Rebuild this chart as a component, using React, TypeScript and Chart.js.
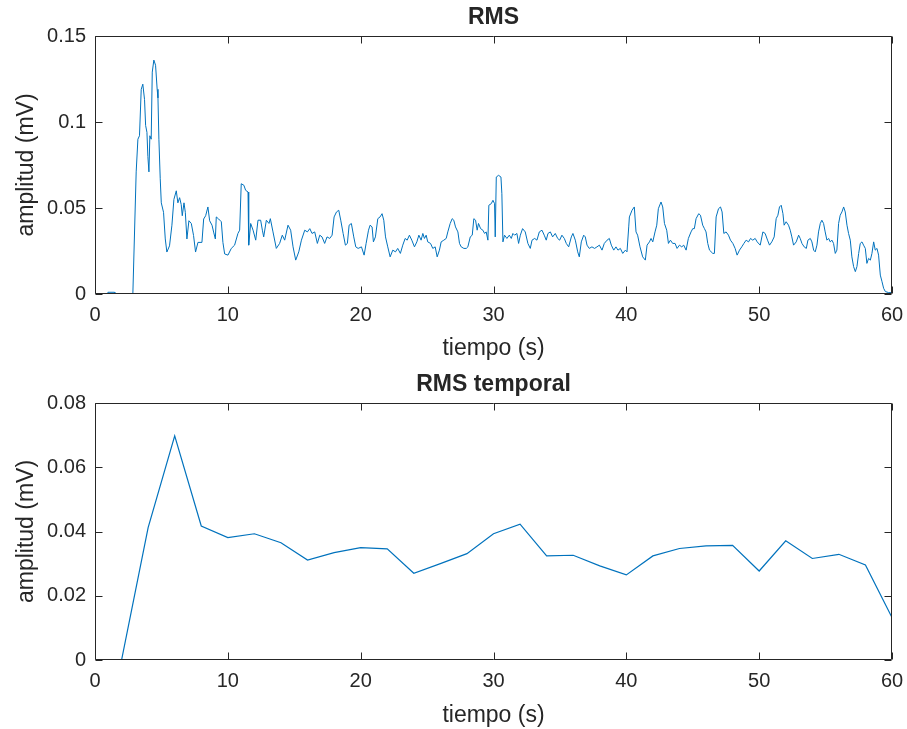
import React, { useEffect, useRef } from "react";
import { Chart, registerables } from "chart.js";

Chart.register(...registerables);

// ---------- data ----------
const rmsTime = [
  0, 0.95, 0.97, 1.47, 1.5, 2.85, 3.1, 3.23, 3.35, 3.48, 3.6, 3.73, 3.81, 3.91, 3.98, 4.06, 4.13, 4.23, 4.31, 4.43,
  4.56, 4.68, 4.74, 4.81, 4.91, 4.99, 5.16, 5.29, 5.41, 5.61, 5.79, 5.94, 6.12, 6.24, 6.37, 6.49, 6.57, 6.7, 6.8, 6.92,
  7.07, 7.25, 7.42, 7.57, 7.75, 8.05, 8.18, 8.33, 8.5, 8.63, 8.81, 8.93, 9.06, 9.13, 9.31, 9.51, 9.63, 9.76, 10.01, 10.26,
  10.51, 10.76, 10.89, 11.01, 11.21, 11.34, 11.52, 11.57, 11.72, 11.9, 12.1, 12.27, 12.47, 12.6, 12.7, 12.9, 13.1, 13.2, 13.4, 13.65,
  13.9, 14.1, 14.28, 14.53, 14.73, 14.91, 15.11, 15.34, 15.54, 15.79, 15.99, 16.17, 16.34, 16.54, 16.74, 16.92, 17.09, 17.29, 17.47, 17.67,
  17.85, 18.0, 18.18, 18.35, 18.5, 18.68, 18.85, 19.0, 19.13, 19.3, 19.48, 19.63, 19.81, 20.06, 20.26, 20.41, 20.59, 20.71, 20.86, 20.96,
  21.11, 21.29, 21.46, 21.61, 21.74, 21.87, 22.04, 22.22, 22.42, 22.62, 22.79, 22.99, 23.17, 23.35, 23.5, 23.67, 23.85, 24.05, 24.23, 24.38,
  24.55, 24.68, 24.8, 24.93, 25.05, 25.26, 25.43, 25.61, 25.76, 25.93, 26.06, 26.26, 26.44, 26.56, 26.74, 26.89, 27.01, 27.14, 27.32, 27.44,
  27.57, 27.77, 27.95, 28.07, 28.25, 28.4, 28.52, 28.65, 28.77, 28.87, 29.03, 29.2, 29.33, 29.45, 29.58, 29.65, 29.83, 29.96, 30.08, 30.13,
  30.21, 30.38, 30.56, 30.63, 30.71, 30.83, 31.01, 31.19, 31.34, 31.46, 31.59, 31.76, 31.89, 32.02, 32.19, 32.39, 32.59, 32.77, 32.9, 33.1,
  33.27, 33.45, 33.65, 33.82, 33.97, 34.1, 34.28, 34.45, 34.65, 34.83, 34.98, 35.15, 35.33, 35.48, 35.66, 35.86, 35.98, 36.16, 36.34, 36.46,
  36.61, 36.79, 36.91, 37.04, 37.21, 37.41, 37.61, 37.79, 37.97, 38.17, 38.34, 38.55, 38.72, 38.87, 39.05, 39.22, 39.37, 39.55, 39.73, 39.93,
  40.05, 40.18, 40.23, 40.43, 40.6, 40.73, 40.85, 41.03, 41.23, 41.43, 41.56, 41.74, 41.86, 41.99, 42.16, 42.29, 42.41, 42.61, 42.74, 42.87,
  43.04, 43.17, 43.32, 43.49, 43.67, 43.82, 44.0, 44.17, 44.32, 44.5, 44.67, 44.87, 45.0, 45.12, 45.25, 45.45, 45.58, 45.75, 45.88, 46.0,
  46.13, 46.26, 46.51, 46.63, 46.76, 46.94, 47.09, 47.21, 47.34, 47.51, 47.69, 47.84, 48.02, 48.19, 48.34, 48.52, 48.69, 48.85, 49.02, 49.2,
  49.35, 49.52, 49.7, 49.85, 50.08, 50.28, 50.45, 50.63, 50.78, 50.95, 51.13, 51.28, 51.41, 51.53, 51.66, 51.79, 51.88, 52.03, 52.21, 52.34,
  52.46, 52.59, 52.79, 52.97, 53.09, 53.22, 53.39, 53.55, 53.67, 53.85, 53.97, 54.1, 54.22, 54.35, 54.47, 54.6, 54.72, 54.85, 54.97, 55.1,
  55.23, 55.35, 55.48, 55.6, 55.73, 55.85, 55.98, 56.1, 56.23, 56.36, 56.48, 56.61, 56.73, 56.86, 56.98, 57.11, 57.24, 57.36, 57.49, 57.61,
  57.74, 57.86, 57.99, 58.11, 58.24, 58.37, 58.49, 58.62, 58.74, 58.87, 58.99, 59.12, 59.25, 59.37, 59.5, 59.75, 60.0,
];

const rmsValue = [
  0, 0, 0.001, 0.001, 0, 0, 0.071, 0.09, 0.092, 0.119, 0.122, 0.113, 0.098, 0.094, 0.08, 0.071, 0.092, 0.09, 0.129, 0.136,
  0.133, 0.119, 0.114, 0.09, 0.067, 0.053, 0.0475, 0.032, 0.0244, 0.028, 0.04, 0.055, 0.06, 0.053, 0.056, 0.052, 0.0455, 0.053, 0.0475, 0.032,
  0.0426, 0.041, 0.034, 0.0244, 0.03, 0.03, 0.0436, 0.0455, 0.0506, 0.0426, 0.04, 0.036, 0.032, 0.0448, 0.0436, 0.042, 0.03, 0.0233, 0.0226, 0.0265,
  0.0284, 0.0352, 0.0371, 0.0641, 0.0632, 0.0603, 0.0593, 0.0284, 0.041, 0.0371, 0.0313, 0.0429, 0.0429, 0.0371, 0.0332, 0.0429, 0.041, 0.0438, 0.0361, 0.0265,
  0.0294, 0.0342, 0.0313, 0.04, 0.0371, 0.0274, 0.0197, 0.0245, 0.0313, 0.0371, 0.0361, 0.038, 0.0352, 0.0361, 0.0294, 0.0342, 0.0332, 0.0294, 0.0332, 0.0323,
  0.0342, 0.0448, 0.0477, 0.0487, 0.0429, 0.0352, 0.0284, 0.0294, 0.04, 0.041, 0.0332, 0.0274, 0.0265, 0.0274, 0.0226, 0.0294, 0.0371, 0.04, 0.039, 0.0303,
  0.0332, 0.0438, 0.0448, 0.0467, 0.0429, 0.0332, 0.0274, 0.0216, 0.0255, 0.0245, 0.0265, 0.0236, 0.0284, 0.0323, 0.0313, 0.0342, 0.0313, 0.0274, 0.0303, 0.0342,
  0.0313, 0.0352, 0.0323, 0.0342, 0.0303, 0.0294, 0.0265, 0.0274, 0.0216, 0.0255, 0.0303, 0.0313, 0.0323, 0.0361, 0.041, 0.0438, 0.0429, 0.039, 0.0361, 0.0294,
  0.0274, 0.0265, 0.0265, 0.0274, 0.0332, 0.0342, 0.0438, 0.0429, 0.0371, 0.041, 0.038, 0.0371, 0.0352, 0.0361, 0.0313, 0.0516, 0.0525, 0.0545, 0.0525, 0.0332,
  0.068, 0.069, 0.068, 0.0583, 0.0303, 0.0342, 0.0323, 0.0342, 0.0323, 0.0352, 0.0342, 0.0352, 0.0294, 0.0342, 0.038, 0.0361, 0.0294, 0.0265, 0.0313, 0.0323,
  0.0313, 0.0361, 0.0371, 0.0342, 0.0313, 0.0352, 0.0361, 0.0332, 0.0352, 0.0323, 0.0313, 0.0342, 0.0323, 0.0294, 0.0274, 0.0332, 0.0352, 0.0313, 0.0245, 0.0216,
  0.0303, 0.0342, 0.0332, 0.0284, 0.0265, 0.0274, 0.0265, 0.0274, 0.0284, 0.0255, 0.0294, 0.0313, 0.0323, 0.0284, 0.0255, 0.0274, 0.0255, 0.0265, 0.0236, 0.0255,
  0.0245, 0.039, 0.0448, 0.0487, 0.0506, 0.0361, 0.0342, 0.0274, 0.0216, 0.0197, 0.0284, 0.0303, 0.0323, 0.0303, 0.0361, 0.04, 0.0496, 0.0535, 0.0506, 0.041,
  0.0371, 0.0294, 0.0313, 0.0294, 0.0294, 0.0265, 0.0284, 0.0274, 0.0284, 0.0255, 0.0323, 0.0361, 0.038, 0.038, 0.0438, 0.0467, 0.0458, 0.04, 0.038, 0.0361,
  0.0294, 0.0255, 0.0236, 0.0236, 0.0448, 0.0496, 0.0506, 0.0477, 0.0352, 0.0361, 0.0342, 0.0313, 0.0294, 0.0265, 0.0226, 0.0255, 0.0274, 0.0294, 0.0313, 0.0303,
  0.0323, 0.0313, 0.0323, 0.0303, 0.0284, 0.0361, 0.0352, 0.0313, 0.0284, 0.0303, 0.0332, 0.0438, 0.0458, 0.0506, 0.0516, 0.0467, 0.04, 0.042, 0.04, 0.0371,
  0.0332, 0.0284, 0.0303, 0.0342, 0.0323, 0.0294, 0.0274, 0.0265, 0.0313, 0.0323, 0.0303, 0.0255, 0.0245, 0.0284, 0.0361, 0.041, 0.0429, 0.041, 0.0361, 0.0313,
  0.0323, 0.0303, 0.0313, 0.0294, 0.0236, 0.0255, 0.041, 0.0458, 0.0477, 0.0506, 0.0477, 0.04, 0.0352, 0.0313, 0.0216, 0.0159, 0.013, 0.0159, 0.0236, 0.0294,
  0.0303, 0.0284, 0.0265, 0.0178, 0.0207, 0.0197, 0.0236, 0.0303, 0.0255, 0.0265, 0.0226, 0.011, 0.0071, 0.0033, 0.0014, 0.0008, 0.0008,
];

const temporalTime = [2, 4, 6, 8, 10, 12, 14, 16, 18, 20, 22, 24, 26, 28, 30, 32, 34, 36, 38, 40, 42, 44, 46, 48, 50, 52, 54, 56, 58, 60];
const temporalValue = [
  0, 0.0412, 0.0698, 0.0417, 0.0381, 0.0393, 0.0365, 0.0311, 0.0334, 0.035, 0.0346, 0.027, 0.03, 0.0331, 0.0393,
  0.0423, 0.0324, 0.0326, 0.0293, 0.0265, 0.0324, 0.0347, 0.0355, 0.0357, 0.0277, 0.0371, 0.0316, 0.0329, 0.0296, 0.0132,
];

const xTicks = [0, 10, 20, 30, 40, 50, 60];
const xTickLabels = ["0", "10", "20", "30", "40", "50", "60"];
const rmsYTicks = [0, 0.05, 0.1, 0.15];
const rmsYTickLabels = ["0", "0.05", "0.1", "0.15"];
const temporalYTicks = [0, 0.02, 0.04, 0.06, 0.08];
const temporalYTickLabels = ["0", "0.02", "0.04", "0.06", "0.08"];

// ---------- styling ----------
const FONT = "'Liberation Sans', Arial, Helvetica, sans-serif";
const AXIS = "#262626";
const LINE = "#0072BD";
const TICK_LEN = 7;

const boxPlugin = {
  id: "matlabBox",
  afterDatasetsDraw(chart: any) {
    const { ctx, chartArea } = chart;
    const { left, right, top, bottom } = chartArea;
    const xs = chart.scales.x;
    const ys = chart.scales.y;
    const L = Math.round(left) + 0.5;
    const R = Math.round(right) - 0.5;
    const T = Math.round(top) + 0.5;
    const B = Math.round(bottom) - 0.5;
    ctx.save();
    ctx.strokeStyle = AXIS;
    ctx.lineWidth = 1;
    ctx.beginPath();
    ctx.rect(L, T, R - L, B - T);
    xs.ticks.forEach((t: any) => {
      const px = Math.round(xs.getPixelForValue(t.value)) + 0.5;
      ctx.moveTo(px, B);
      ctx.lineTo(px, B - TICK_LEN);
      ctx.moveTo(px, T);
      ctx.lineTo(px, T + TICK_LEN);
    });
    ys.ticks.forEach((t: any) => {
      const py = Math.round(ys.getPixelForValue(t.value)) + 0.5;
      ctx.moveTo(L, py);
      ctx.lineTo(L + TICK_LEN, py);
      ctx.moveTo(R, py);
      ctx.lineTo(R - TICK_LEN, py);
    });
    ctx.stroke();
    ctx.restore();
  },
};

type PanelProps = {
  title: string;
  times: number[];
  values: number[];
  yMax: number;
  yTicks: number[];
  yTickLabels: string[];
  titlePadTop: number;
  titlePadBottom: number;
  xAxisHeight: number;
  xTitlePad: number;
  width: number;
  height: number;
  lineWidth: number;
};

function Panel(p: PanelProps) {
  const ref = useRef<HTMLCanvasElement | null>(null);
  useEffect(() => {
    if (!ref.current) return;
    const chart = new Chart(ref.current, {
      type: "line",
      data: {
        datasets: [
          {
            data: p.times.map((t, i) => ({ x: t, y: p.values[i] })),
            borderColor: LINE,
            borderWidth: p.lineWidth,
            pointRadius: 0,
            tension: 0,
            fill: false,
          },
        ],
      },
      options: {
        animation: false,
        responsive: false,
        devicePixelRatio: 1,
        layout: { padding: { left: 0, right: 15, top: 0, bottom: 0 } },
        plugins: {
          legend: { display: false },
          tooltip: { enabled: false },
          title: {
            display: true,
            text: p.title,
            fullSize: false,
            color: AXIS,
            font: { family: FONT, size: 23, weight: "bold", lineHeight: 1.2 },
            padding: { top: p.titlePadTop, bottom: p.titlePadBottom },
          },
        },
        scales: {
          x: {
            type: "linear",
            min: 0,
            max: 60,
            afterBuildTicks: (s: any) => {
              s.ticks = xTicks.map((v) => ({ value: v }));
            },
            afterFit: (s: any) => {
              s.height = p.xAxisHeight;
              s.paddingLeft = 0;
              s.paddingRight = 0;
            },
            grid: { display: false, drawTicks: false },
            border: { display: false },
            ticks: {
              autoSkip: false,
              maxRotation: 0,
              padding: 9,
              color: AXIS,
              font: { family: FONT, size: 20 },
              callback: (_v: any, i: number) => xTickLabels[i],
            },
            title: {
              display: true,
              text: "tiempo (s)",
              color: AXIS,
              font: { family: FONT, size: 23, lineHeight: 1.2 },
              padding: { top: 0, bottom: p.xTitlePad },
            },
          },
          y: {
            type: "linear",
            min: 0,
            max: p.yMax,
            afterBuildTicks: (s: any) => {
              s.ticks = p.yTicks.map((v) => ({ value: v }));
            },
            afterFit: (s: any) => {
              s.width = 95;
              s.paddingTop = 0;
              s.paddingBottom = 0;
            },
            grid: { display: false, drawTicks: false },
            border: { display: false },
            ticks: {
              autoSkip: false,
              padding: 9,
              color: AXIS,
              font: { family: FONT, size: 20 },
              callback: (_v: any, i: number) => p.yTickLabels[i],
            },
            title: {
              display: true,
              text: "amplitud (mV)",
              color: AXIS,
              font: { family: FONT, size: 23, lineHeight: 1.2 },
              padding: { top: 13, bottom: 0 },
            },
          },
        },
      } as any,
      plugins: [boxPlugin],
    });
    return () => chart.destroy();
  }, []);
  return <canvas ref={ref} width={p.width} height={p.height} style={{ display: "block" }} />;
}

export default function App() {
  return (
    <div
      style={{
        position: "fixed",
        left: 0,
        top: 0,
        width: 907,
        height: 729,
        background: "#ffffff",
        overflow: "hidden",
      }}
    >
      <div style={{ position: "absolute", left: 0, top: 0 }}>
        <Panel
          title="RMS"
          times={rmsTime}
          values={rmsValue}
          yMax={0.15}
          yTicks={rmsYTicks}
          yTickLabels={rmsYTickLabels}
          titlePadTop={4}
          titlePadBottom={4.4}
          xAxisHeight={71}
          xTitlePad={3}
          width={907}
          height={365}
          lineWidth={1}
        />
      </div>
      <div style={{ position: "absolute", left: 0, top: 365 }}>
        <Panel
          title="RMS temporal"
          times={temporalTime}
          values={temporalValue}
          yMax={0.08}
          yTicks={temporalYTicks}
          yTickLabels={temporalYTickLabels}
          titlePadTop={6.2}
          titlePadBottom={4.2}
          xAxisHeight={69}
          xTitlePad={0}
          width={907}
          height={364}
          lineWidth={1.2}
        />
      </div>
    </div>
  );
}
